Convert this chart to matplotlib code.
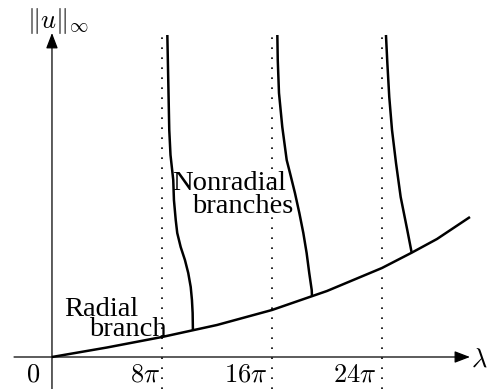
import matplotlib
matplotlib.use("Agg")
import matplotlib.pyplot as plt

plt.rcParams['mathtext.fontset'] = 'cm'
plt.rcParams['font.family'] = ['Liberation Serif', 'DejaVu Serif']

# lambda in units of pi, ||u|| in arbitrary units
lam_radial = [0, 4, 8, 12, 16, 20, 24, 26.16, 28, 29.2, 30.4]
u_radial = [0, 0.95, 2.0, 3.2, 4.7, 6.6, 8.9, 10.43, 11.8, 12.9, 14.0]

lam_branch1 = [8.39, 8.53, 8.62, 8.82, 8.87, 9.00, 9.11, 9.36, 9.67, 9.91, 10.09, 10.18, 10.23, 10.25]
u_branch1 = [32.2, 22.7, 20.2, 17.7, 15.7, 13.7, 12.4, 11.0, 9.7, 8.4, 7.0, 5.7, 4.4, 2.68]

lam_branch2 = [16.39, 16.42, 16.51, 16.75, 17.07, 17.31, 17.67, 17.99, 18.28, 18.52, 18.71, 18.89, 18.91]
u_branch2 = [32.2, 29.7, 26.4, 23.0, 19.7, 18.4, 16.4, 14.4, 12.4, 10.4, 8.4, 6.7, 6.08]

lam_branch3 = [24.29, 24.39, 24.53, 24.73, 25.02, 25.36, 25.84, 26.16]
u_branch3 = [32.2, 29.4, 26.0, 22.7, 19.4, 16.0, 12.7, 10.43]

bifurcation_lams = [8, 16, 24]
tick_labels = [r'$8\pi$', r'$16\pi$', r'$24\pi$']

fig = plt.figure(figsize=(4.95, 3.89), dpi=100)
ax = fig.add_axes([0, 0, 1, 1])
ax.set_xlim(-3.78, 32.22)
ax.set_ylim(-3.2, 35.7)
ax.axis('off')

# axes with arrows
arrow = dict(arrowstyle='-|>,head_length=0.47,head_width=0.18', lw=0.9,
             color='k', mutation_scale=20, shrinkA=0, shrinkB=0)
ax.annotate('', xy=(30.4, 0), xytext=(-2.76, 0), arrowprops=arrow)
ax.annotate('', xy=(0, 32.4), xytext=(0, -3.2), arrowprops=arrow)

# dotted vertical lines
for lv in bifurcation_lams:
    ax.plot([lv, lv], [-3.2, 32.3], color='k', lw=1.2, ls=(0, (1, 5)))

# branches
ax.plot(lam_radial, u_radial, color='k', lw=1.8, solid_capstyle='butt',
        solid_joinstyle='round')
for lx, uy in [(lam_branch1, u_branch1), (lam_branch2, u_branch2), (lam_branch3, u_branch3)]:
    ax.plot(lx, uy, color='k', lw=1.8, solid_capstyle='butt', solid_joinstyle='round')

# tick labels
ax.text(-1.35, -2.5, r'$0$', fontsize=19, ha='center', va='baseline')
ax.text(7.85, -2.5, tick_labels[0], fontsize=19, ha='right', va='baseline')
ax.text(14.1, -2.5, tick_labels[1], fontsize=19, ha='center', va='baseline')
ax.text(22.04, -2.5, tick_labels[2], fontsize=19, ha='center', va='baseline')
ax.text(31.1, -1.0, r'$\lambda$', fontsize=19, ha='center', va='baseline')
ax.text(0.44, 33.6, r'$\|u\|_\infty$', fontsize=19, ha='center', va='center')

# annotations
ax.text(0.85, 4.05, 'Radial', fontsize=20.5, ha='left', va='baseline')
ax.text(2.7, 2.15, 'branch', fontsize=20.5, ha='left', va='baseline')
ax.text(8.75, 16.75, 'Nonradial', fontsize=20.5, ha='left', va='baseline')
ax.text(10.2, 14.4, 'branches', fontsize=20.5, ha='left', va='baseline')

fig.savefig('out.png', dpi=100)
